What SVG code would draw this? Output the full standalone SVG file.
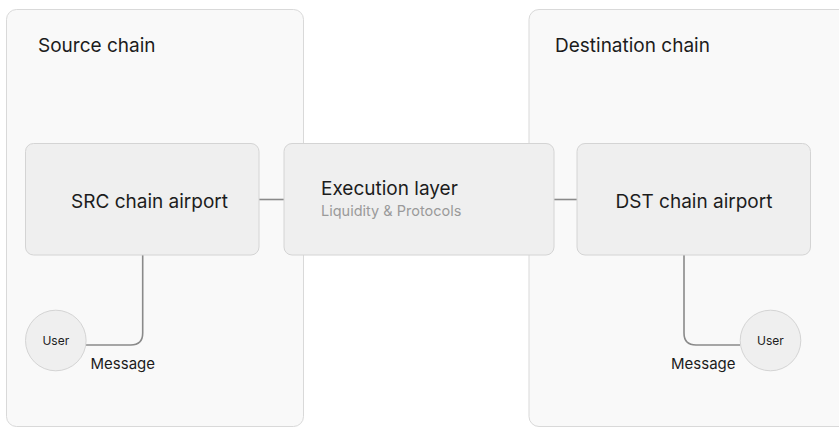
<svg xmlns="http://www.w3.org/2000/svg" width="839" height="428" viewBox="0 0 839 428">
  <style>
    .panel { fill: #f9f9f9; stroke: #d9d9d9; stroke-width: 1; }
    .box { fill: #efefef; stroke: #d4d4d4; stroke-width: 1; }
    .user { fill: #efefef; stroke: #d4d4d4; stroke-width: 1; }
    .wire { fill: none; stroke: #8a8a8a; stroke-width: 1.6; }
    text { font-family: Inter, "Open Sans", "Liberation Sans", sans-serif; fill: #1c1c1c; }
    .title { font-size: 19px; }
    .label { font-size: 19px; }
    .sub { font-size: 14.5px; fill: #9a9a9a; }
    .small { font-size: 12px; }
    .msg { font-size: 15px; }
  </style>
  <rect width="839" height="428" fill="#ffffff"/>

  <g id="source-chain">
    <rect class="panel" x="6.5" y="9.5" width="297" height="417" rx="10"/>
    <text class="title" x="38" y="52">Source chain</text>
  </g>

  <g id="destination-chain">
    <rect class="panel" x="529" y="9.5" width="330" height="417" rx="10"/>
    <text class="title" x="555" y="52">Destination chain</text>
  </g>

  <g id="connectors">
    <line class="wire" x1="259" y1="199.5" x2="284" y2="199.5"/>
    <line class="wire" x1="554" y1="199.5" x2="577" y2="199.5"/>
    <path class="wire" d="M142.7 255 V333 Q142.7 345 130.7 345 H86"/>
    <path class="wire" d="M684 255 V333 Q684 345 696 345 H740"/>
  </g>

  <g id="src-airport">
    <rect class="box" x="25.5" y="143.5" width="233.5" height="111.5" rx="8"/>
    <text class="label" x="149.5" y="208" text-anchor="middle">SRC chain airport</text>
  </g>

  <g id="execution-layer">
    <rect class="box" x="284" y="143.5" width="270" height="111.5" rx="8"/>
    <text class="label" x="321" y="195">Execution layer</text>
    <text class="sub" x="321" y="216">Liquidity &amp; Protocols</text>
  </g>

  <g id="dst-airport">
    <rect class="box" x="577" y="143.5" width="233.5" height="111.5" rx="8"/>
    <text class="label" x="694" y="208" text-anchor="middle">DST chain airport</text>
  </g>

  <g id="src-user">
    <circle class="user" cx="55.8" cy="340.5" r="30.3"/>
    <text class="small" x="55.8" y="344.5" text-anchor="middle">User</text>
    <text class="msg" x="90.5" y="369">Message</text>
  </g>

  <g id="dst-user">
    <circle class="user" cx="770.5" cy="340.5" r="30.3"/>
    <text class="small" x="770.5" y="344.5" text-anchor="middle">User</text>
    <text class="msg" x="671" y="369">Message</text>
  </g>
</svg>
